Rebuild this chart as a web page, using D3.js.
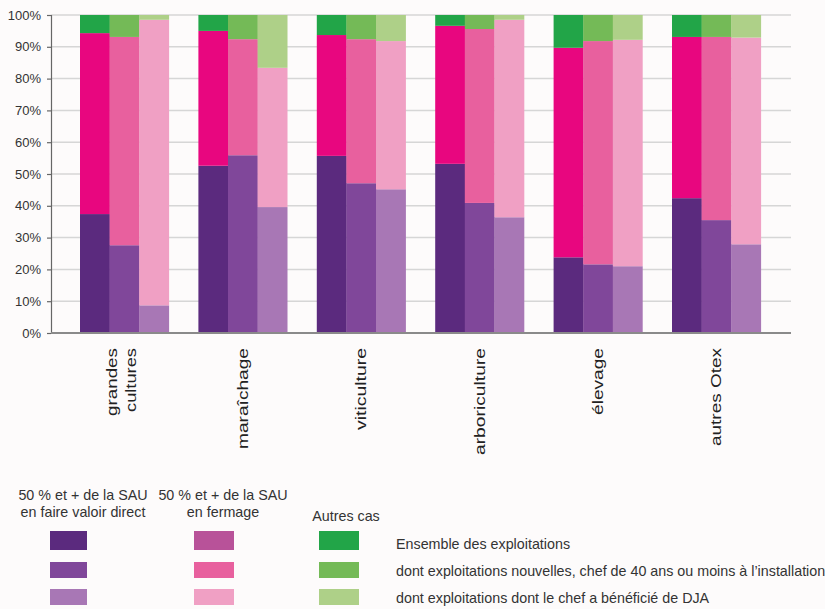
<!DOCTYPE html>
<html>
<head>
<meta charset="utf-8">
<script src="https://cdn.jsdelivr.net/npm/d3@7"></script>
<style>
  html, body { margin: 0; padding: 0; background: #fdfbfb; }
  svg { display: block; font-family: "Liberation Sans", Arial, sans-serif; }
</style>
</head>
<body>
<svg id="chart" width="825" height="609"></svg>
<script>
// ---- Data ----
const categories = ["grandes cultures", "maraîchage", "viticulture", "arboriculture", "élevage", "autres Otex"];
const categoryLines = [["grandes", "cultures"], ["maraîchage"], ["viticulture"], ["arboriculture"], ["élevage"], ["autres Otex"]];
const seriesNames = [
  "Ensemble des exploitations",
  "dont exploitations nouvelles, chef de 40 ans ou moins à l’installation",
  "dont exploitations dont le chef a bénéficié de DJA"
];
const stackNames = ["50 % et + de la SAU en faire valoir direct", "50 % et + de la SAU en fermage", "Autres cas"];

// percentages: [series][category]
const directValues = [
  [37.4, 52.6, 55.7, 53.2, 23.8, 42.4],
  [27.6, 55.9, 47.1, 40.9, 21.6, 35.5],
  [8.7, 39.6, 45.2, 36.4, 21.0, 27.9]
];
const fermageValues = [
  [56.9, 42.4, 38.0, 43.4, 65.9, 50.7],
  [65.5, 36.5, 45.3, 54.7, 70.2, 57.6],
  [89.8, 43.8, 46.6, 62.1, 71.2, 65.0]
];
const autresValues = [
  [5.7, 5.0, 6.3, 3.4, 10.3, 6.9],
  [6.9, 7.6, 7.6, 4.4, 8.2, 6.9],
  [1.5, 16.6, 8.2, 1.5, 7.8, 7.1]
];
const yTicks = [0, 10, 20, 30, 40, 50, 60, 70, 80, 90, 100];
const yTickLabels = ["0%", "10%", "20%", "30%", "40%", "50%", "60%", "70%", "80%", "90%", "100%"];

// ---- Styles ----
const barColors = [
  ["#5b2a7e", "#e8067f", "#22a548"],
  ["#80479a", "#e8609e", "#74ba57"],
  ["#a877b5", "#f0a0c4", "#aed088"]
];
const legendColors = [
  ["#5b2a7e", "#b85299", "#22a548"],
  ["#80479a", "#e8609e", "#74ba57"],
  ["#a877b5", "#f0a0c4", "#aed088"]
];
const labelLengths = {"grandes": 68, "cultures": 64, "maraîchage": 101, "viticulture": 82, "arboriculture": 107, "élevage": 67, "autres Otex": 98};

const svg = d3.select("#chart");
svg.append("rect").attr("width", 825).attr("height", 609).attr("fill", "#fdfbfb");

const plotLeft = 51, plotRight = 791;
const y = d3.scaleLinear().domain([0, 100]).range([333, 15]);
const x0 = d3.scaleBand().domain(categories).range([65.2, 775.6]).paddingInner(0.25).paddingOuter(0.125);
const x1 = d3.scaleBand().domain(d3.range(seriesNames.length)).range([0, x0.bandwidth()]).padding(0);

// gridlines
svg.append("g").selectAll("line").data(yTicks.filter(t => t > 0)).join("line")
  .attr("x1", plotLeft).attr("x2", plotRight)
  .attr("y1", d => y(d)).attr("y2", d => y(d))
  .attr("stroke", "#d6d6d6").attr("stroke-width", 1.5);

// bars
const rows = [];
categories.forEach((c, ci) => {
  seriesNames.forEach((s, si) => {
    const vals = [directValues[si][ci], fermageValues[si][ci], autresValues[si][ci]];
    let acc = 0;
    vals.forEach((v, k) => {
      rows.push({cat: c, si, k, y0: acc, y1: acc + v});
      acc += v;
    });
  });
});
svg.append("g").selectAll("rect").data(rows).join("rect")
  .attr("x", d => x0(d.cat) + x1(d.si))
  .attr("width", x1.bandwidth() + 0.3)
  .attr("y", d => y(Math.min(d.y1, 100)))
  .attr("height", d => y(d.y0) - y(Math.min(d.y1, 100)))
  .attr("fill", d => barColors[d.si][d.k]);

// y axis
const yAxis = d3.axisLeft(y).tickValues(yTicks).tickFormat((d, i) => yTickLabels[i]).tickSize(4).tickPadding(6);
const yg = svg.append("g").attr("transform", `translate(${plotLeft},0)`).call(yAxis);
yg.select(".domain").attr("stroke", "#666").attr("stroke-width", 1.2);
yg.selectAll(".tick line").attr("stroke", "#666").attr("stroke-width", 1.2);
yg.selectAll(".tick text").attr("font-size", 13).attr("fill", "#333")
  .attr("font-family", "Liberation Sans, Arial, sans-serif");

// x axis baseline
svg.append("line").attr("x1", plotLeft).attr("x2", plotRight).attr("y1", y(0)).attr("y2", y(0))
  .attr("stroke", "#8a8a8a").attr("stroke-width", 2);

// x labels (rotated)
const xl = svg.append("g");
categories.forEach((c, ci) => {
  const cx = x0(c) + x0.bandwidth() / 2;
  const lines = categoryLines[ci];
  const offsets = lines.length === 2 ? [-7, 12] : [5];
  lines.forEach((ln, li) => {
    xl.append("text")
      .attr("transform", `translate(${cx + offsets[li]},348) rotate(-90)`)
      .attr("text-anchor", "end")
      .attr("font-size", 15)
      .attr("fill", "#222")
      .attr("textLength", labelLengths[ln])
      .attr("lengthAdjust", "spacingAndGlyphs")
      .text(ln);
  });
});

// legend
const lg = svg.append("g").attr("font-size", 14.3).attr("fill", "#333");
const headers = [
  {lines: ["50 % et + de la SAU", "en faire valoir direct"], cx: 83, ys: [500, 517]},
  {lines: ["50 % et + de la SAU", "en fermage"], cx: 223, ys: [500, 517]},
  {lines: ["Autres cas"], cx: 346, ys: [521]}
];
headers.forEach(h => {
  h.lines.forEach((t, i) => {
    lg.append("text").attr("x", h.cx).attr("y", h.ys[i]).attr("text-anchor", "middle").text(t);
  });
});
const colX = [50, 194, 319];
const colW = [37, 40, 40];
const rowY = [531, 562, 589];
const rowH = [19, 16, 16];
const textY = [550, 577, 604];
seriesNames.forEach((s, si) => {
  stackNames.forEach((st, k) => {
    lg.append("rect").attr("x", colX[k]).attr("y", rowY[si]).attr("width", colW[k]).attr("height", rowH[si])
      .attr("fill", legendColors[si][k]);
  });
  lg.append("text").attr("x", 396).attr("y", textY[si] - 1).text(s);
});
</script>
</body>
</html>
